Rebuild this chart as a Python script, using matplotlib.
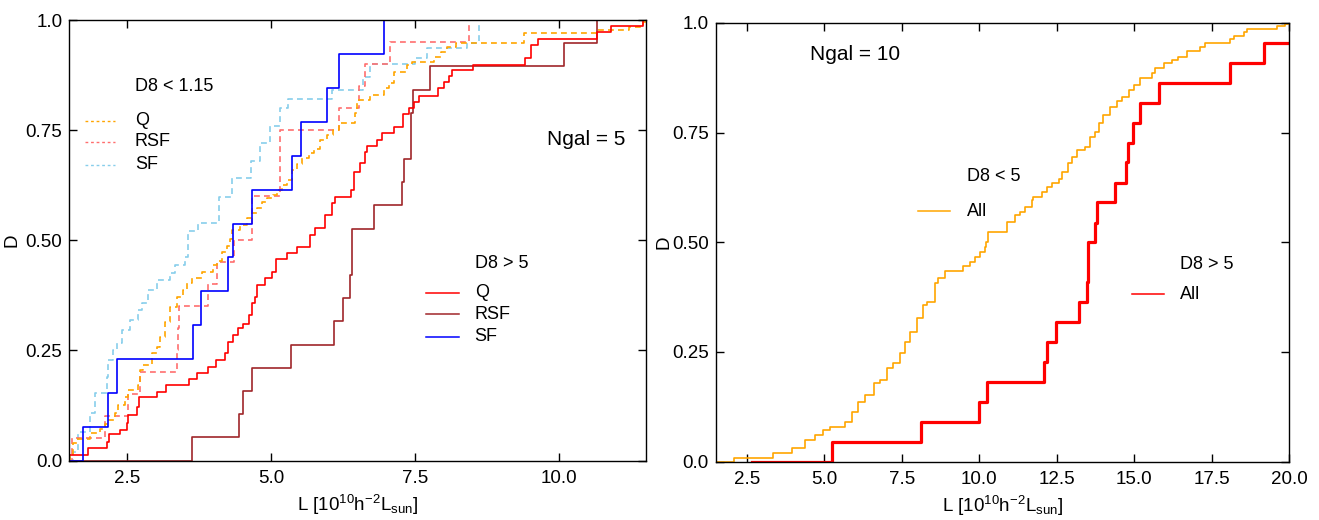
import numpy as np
import matplotlib
matplotlib.use("Agg")
import matplotlib.pyplot as plt

plt.rcParams["font.family"] = ["Liberation Sans", "DejaVu Sans"]
plt.rcParams["mathtext.default"] = "regular"

# ---- left panel (Ngal = 5) ----
# D8 < 1.15 (dashed)
q_lo_x = [1.52, 1.57, 1.63, 1.86, 2.03, 2.12, 2.18, 2.29, 2.35, 2.47, 2.52, 2.70, 2.73,
          2.78, 2.93, 3.02, 3.07, 3.16, 3.25, 3.36, 3.48, 3.54, 3.62, 3.80, 4.00, 4.06,
          4.15, 4.23, 4.29, 4.32, 4.46, 4.58, 4.67, 4.75, 4.84, 4.93, 5.04, 5.10, 5.19,
          5.27, 5.36, 5.45, 5.53, 5.65, 5.74, 5.85, 5.97, 6.08, 6.17, 6.46, 6.49, 6.71,
          6.95, 7.04, 7.13, 7.36, 7.44, 7.82, 7.94, 8.05, 8.20, 9.38, 10.66, 11.20, 11.45]
q_lo_y = [0.015, 0.039, 0.048, 0.063, 0.072, 0.082, 0.092, 0.107, 0.126, 0.145, 0.160,
          0.171, 0.205, 0.216, 0.243, 0.258, 0.281, 0.315, 0.349, 0.372, 0.387, 0.402,
          0.414, 0.429, 0.444, 0.452, 0.474, 0.486, 0.504, 0.523, 0.535, 0.550, 0.561,
          0.573, 0.587, 0.595, 0.602, 0.614, 0.625, 0.636, 0.660, 0.674, 0.686, 0.697,
          0.708, 0.728, 0.739, 0.750, 0.767, 0.790, 0.818, 0.829, 0.845, 0.856, 0.883,
          0.897, 0.905, 0.916, 0.928, 0.939, 0.948, 0.970, 0.977, 0.985, 0.995]

rsf_lo_x = [1.54, 2.12, 2.52, 2.73, 3.36, 3.38, 3.40, 3.91, 4.06, 4.35, 4.67, 4.67,
            5.16, 5.16, 5.16, 6.17, 6.52, 6.63, 7.07, 8.43]
rsf_lo_y = [0.05, 0.10, 0.15, 0.20, 0.25, 0.30, 0.35, 0.40, 0.45, 0.50, 0.55, 0.60,
            0.65, 0.70, 0.75, 0.80, 0.85, 0.90, 0.95, 1.00]

sf_lo_x = [1.57, 1.66, 1.86, 1.94, 2.15, 2.18, 2.26, 2.32, 2.41, 2.55, 2.70, 2.76, 2.87,
           3.02, 3.25, 3.33, 3.51, 3.56, 3.74, 4.09, 4.32, 4.65, 4.80, 4.98, 5.16, 5.29,
           6.06, 6.60, 6.72, 7.50, 7.70, 8.39, 8.60]
sf_lo_y = [0.020, 0.065, 0.107, 0.153, 0.190, 0.228, 0.251, 0.266, 0.296, 0.319, 0.342,
           0.357, 0.387, 0.410, 0.425, 0.444, 0.463, 0.522, 0.540, 0.599, 0.641, 0.681,
           0.720, 0.759, 0.800, 0.820, 0.841, 0.871, 0.900, 0.913, 0.936, 0.947, 1.000]

# D8 > 5 (solid)
q_hi_x = [1.50, 1.83, 2.15, 2.19, 2.38, 2.50, 2.52, 2.68, 2.71, 3.02, 3.18, 3.57, 3.72,
          3.90, 4.05, 4.20, 4.26, 4.34, 4.42, 4.52, 4.61, 4.67, 4.72, 4.76, 4.90, 5.01,
          5.09, 5.28, 5.45, 5.68, 5.77, 5.94, 6.06, 6.10, 6.38, 6.44, 6.55, 6.62, 6.67,
          6.84, 6.92, 7.13, 7.29, 7.39, 7.47, 7.56, 7.89, 8.00, 8.08, 8.14, 8.51, 9.41,
          9.50, 9.63, 10.66, 10.89, 11.45]
q_hi_y = [0.012, 0.028, 0.043, 0.060, 0.069, 0.085, 0.103, 0.122, 0.145, 0.156, 0.171,
          0.184, 0.199, 0.213, 0.228, 0.243, 0.270, 0.285, 0.300, 0.311, 0.330, 0.357,
          0.372, 0.398, 0.414, 0.429, 0.457, 0.470, 0.485, 0.512, 0.527, 0.557, 0.584,
          0.599, 0.614, 0.656, 0.675, 0.701, 0.714, 0.728, 0.743, 0.758, 0.786, 0.800,
          0.815, 0.828, 0.845, 0.860, 0.873, 0.886, 0.898, 0.913, 0.943, 0.958, 0.973,
          0.986, 1.000]

rsf_hi_x = [3.63, 4.45, 4.52, 4.67, 5.35, 6.09, 6.25, 6.37, 6.40, 6.41, 6.79, 7.27,
            7.30, 7.42, 7.43, 7.46, 7.76, 10.08, 10.66]
rsf_hi_y = [0.053, 0.105, 0.158, 0.211, 0.263, 0.316, 0.368, 0.421, 0.474, 0.526,
            0.579, 0.632, 0.684, 0.737, 0.789, 0.842, 0.895, 0.947, 1.000]

sf_hi_x = [1.73, 2.17, 2.32, 3.65, 3.79, 4.26, 4.34, 4.67, 5.37, 5.52, 5.97, 6.18, 6.96]
sf_hi_y = [0.077, 0.154, 0.231, 0.308, 0.385, 0.462, 0.538, 0.615, 0.692, 0.769,
           0.846, 0.923, 1.000]

# ---- right panel (Ngal = 10) ----
all_lo_x = [2.10, 3.36, 3.95, 4.38, 4.70, 4.97, 5.19, 5.67, 5.89, 6.10, 6.32, 6.59, 6.81,
            7.02, 7.23, 7.45, 7.61, 7.77, 7.99, 8.20, 8.31, 8.58, 8.68, 8.90, 9.49, 9.71,
            9.87, 10.03, 10.19, 10.22, 10.30, 10.89, 11.16, 11.33, 11.49, 11.70, 11.75,
            12.02, 12.18, 12.35, 12.56, 12.67, 12.88, 12.99, 13.15, 13.42, 13.56, 13.74,
            13.88, 13.99, 14.23, 14.44, 14.61, 14.82, 14.98, 15.20, 15.58, 15.68, 15.95,
            16.22, 16.43, 16.71, 17.13, 17.30, 18.10, 18.21, 18.53, 18.64, 19.61, 19.88]
all_lo_y = [0.007, 0.019, 0.030, 0.049, 0.060, 0.072, 0.079, 0.091, 0.114, 0.136, 0.152,
            0.178, 0.186, 0.213, 0.224, 0.247, 0.273, 0.296, 0.327, 0.357, 0.364, 0.406,
            0.418, 0.435, 0.446, 0.456, 0.467, 0.478, 0.490, 0.500, 0.524, 0.547, 0.562,
            0.570, 0.581, 0.596, 0.604, 0.615, 0.625, 0.636, 0.645, 0.661, 0.680, 0.695,
            0.710, 0.718, 0.741, 0.752, 0.771, 0.790, 0.809, 0.821, 0.832, 0.847, 0.859,
            0.874, 0.885, 0.897, 0.908, 0.916, 0.923, 0.935, 0.945, 0.954, 0.963, 0.970,
            0.980, 0.987, 0.993, 0.998]

all_hi_start = 2.66
all_hi_x = [5.26, 8.12, 9.98, 10.25, 12.10, 12.18, 12.49, 13.23, 13.48, 13.50, 13.52,
            13.74, 13.80, 14.39, 14.75, 14.80, 14.96, 15.20, 15.80, 18.08, 19.18]
all_hi_y = [0.045, 0.091, 0.136, 0.182, 0.227, 0.273, 0.318, 0.364, 0.409, 0.455, 0.500,
            0.545, 0.591, 0.636, 0.682, 0.727, 0.773, 0.818, 0.864, 0.909, 0.955]

yticks = [0.0, 0.25, 0.5, 0.75, 1.0]
ytick_labels = ["0.0", "0.25", "0.50", "0.75", "1.0"]

C_ORANGE = "#FFA500"
C_PINK = "#FF6E6E"
C_SKY = "#87CEEB"
C_RED = "#FF0000"
C_BROWN = "#A0262A"
C_BLUE = "#0000FF"


def cdf(ax, xs, ys, x0, x1, **kw):
    x = np.concatenate([[x0], xs, [x1]])
    y = np.concatenate([[0.0], ys, [ys[-1]]])
    ax.step(x, y, where="post", **kw)


def style(ax, xmin, xmax, xticks):
    ax.set_xlim(xmin, xmax)
    ax.set_ylim(0, 1)
    ax.set_xticks(xticks)
    ax.set_xticklabels([f"{t:.1f}" for t in xticks])
    ax.set_yticks(yticks)
    ax.set_yticklabels(ytick_labels)
    ax.tick_params(direction="in", top=True, right=True, length=6, width=1,
                   labelsize=13.5)
    ax.tick_params(axis="x", pad=7)
    ax.tick_params(axis="y", pad=5)
    for s in ax.spines.values():
        s.set_linewidth(1.0)
    ax.set_xlabel(r"L [10$^{10}$h$^{-2}$L$_{sun}$]", fontsize=13.5, labelpad=4)
    ax.set_ylabel("D", fontsize=13.5)


fig = plt.figure(figsize=(13.19, 5.2), dpi=100)
ax1 = fig.add_axes([0.0525, 0.1144, 0.4372, 0.8471])
ax2 = fig.add_axes([0.5427, 0.1125, 0.4346, 0.8433])

# left panel
dash = (0, (3.5, 2.5))
cdf(ax1, sf_lo_x, sf_lo_y, 1.5, 11.5, color=C_SKY, lw=1.2, ls=dash)
cdf(ax1, rsf_lo_x, rsf_lo_y, 1.5, 11.5, color=C_PINK, lw=1.2, ls=dash)
cdf(ax1, q_lo_x, q_lo_y, 1.5, 11.5, color=C_ORANGE, lw=1.2, ls=dash)
cdf(ax1, rsf_hi_x, rsf_hi_y, 1.5, 11.5, color=C_BROWN, lw=1.2)
cdf(ax1, q_hi_x, q_hi_y, 1.5, 11.5, color=C_RED, lw=1.2)
cdf(ax1, sf_hi_x, sf_hi_y, 1.5, 11.5, color=C_BLUE, lw=1.2)
style(ax1, 1.5, 11.5, [2.5, 5.0, 7.5, 10.0])
ax1.yaxis.set_label_coords(-0.085, 0.5)

tr = ax1.transAxes
ax1.text(0.114, 0.850, "D8 < 1.15", transform=tr, fontsize=13, va="center")
for yy, lab, col in [(0.771, "Q", C_ORANGE), (0.724, "RSF", C_PINK), (0.672, "SF", C_SKY)]:
    ax1.plot([0.027, 0.079], [yy, yy], transform=tr, color=col, lw=1.0, ls=(0, (2, 2)))
    ax1.text(0.114, yy, lab, transform=tr, fontsize=13, va="center")
ax1.text(0.703, 0.448, "D8 > 5", transform=tr, fontsize=13, va="center")
for yy, lab, col in [(0.381, "Q", C_RED), (0.332, "RSF", C_BROWN), (0.281, "SF", C_BLUE)]:
    ax1.plot([0.618, 0.676], [yy, yy], transform=tr, color=col, lw=1.1)
    ax1.text(0.703, yy, lab, transform=tr, fontsize=13, va="center")
ax1.text(0.829, 0.729, "Ngal = 5", transform=tr, fontsize=15, va="center")

# right panel
cdf(ax2, all_lo_x, all_lo_y, 1.5, 20.0, color=C_ORANGE, lw=1.2)
cdf(ax2, all_hi_x, all_hi_y, all_hi_start, 20.0, color=C_RED, lw=2.3)
style(ax2, 1.5, 20.0, [2.5, 5.0, 7.5, 10.0, 12.5, 15.0, 17.5, 20.0])
ax2.yaxis.set_label_coords(-0.075, 0.5)

tr = ax2.transAxes
ax2.text(0.164, 0.929, "Ngal = 10", transform=tr, fontsize=15, va="center")
ax2.text(0.438, 0.649, "D8 < 5", transform=tr, fontsize=13, va="center")
ax2.plot([0.353, 0.409], [0.571, 0.571], transform=tr, color=C_ORANGE, lw=1.1)
ax2.text(0.438, 0.571, "All", transform=tr, fontsize=13, va="center")
ax2.text(0.810, 0.450, "D8 > 5", transform=tr, fontsize=13, va="center")
ax2.plot([0.726, 0.781], [0.381, 0.381], transform=tr, color=C_RED, lw=1.1)
ax2.text(0.810, 0.381, "All", transform=tr, fontsize=13, va="center")

fig.savefig("out.png", dpi=100)
